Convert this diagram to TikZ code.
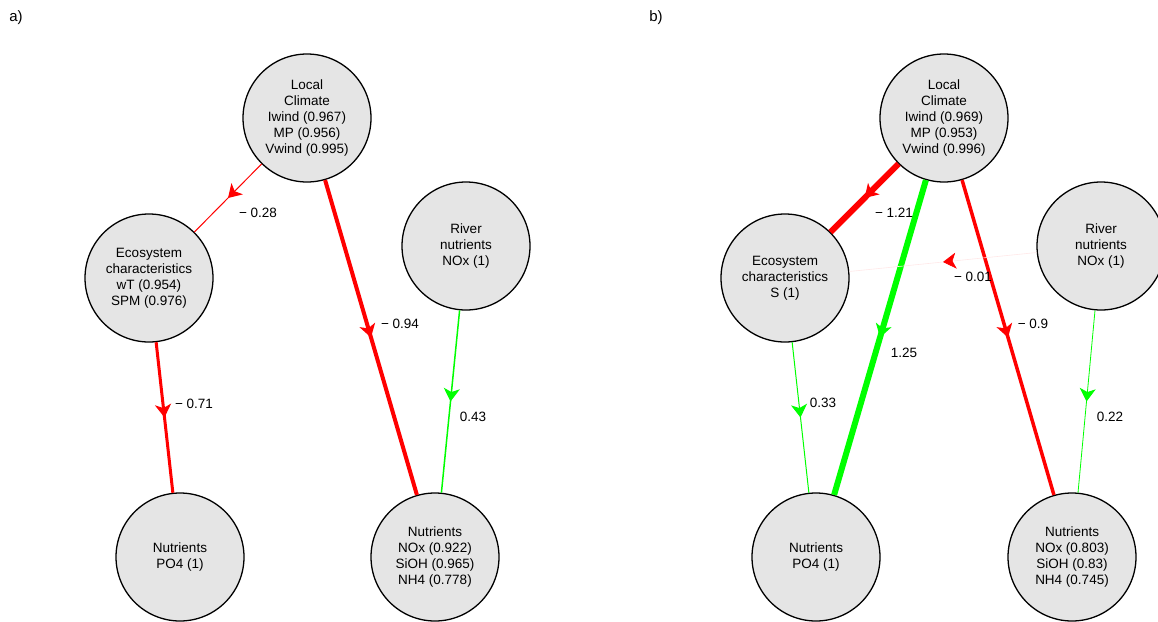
\documentclass[tikz,border=0pt]{standalone}
\usepackage{fontspec}
\setmainfont{Liberation Sans}
\usetikzlibrary{arrows.meta,decorations.markings}
\definecolor{nodegray}{RGB}{229,229,229}
\definecolor{pgreen}{RGB}{0,255,0}
\definecolor{pred}{RGB}{255,0,0}
\definecolor{faintred}{RGB}{255,232,232}
\begin{document}
\begin{tikzpicture}[x=1pt,y=-1pt,
  var/.style={circle,draw=black,line width=1.3pt,fill=nodegray,minimum size=128pt,
              inner sep=0pt,align=center,font=\fontsize{13.5}{16}\selectfont},
  elabel/.style={font=\fontsize{13.5}{16}\selectfont,inner sep=0pt},
  panel/.style={font=\fontsize{15}{18}\selectfont,inner sep=0pt},
  midarrow/.style={postaction={decorate},decoration={markings,
      mark=at position 0.5 with {\arrow{Stealth[length=13pt,width=16pt,inset=3.5pt]}}}},
  fadearrow/.style={postaction={decorate},decoration={markings,
      mark=at position 0.5 with {\arrow{Stealth[length=13pt,width=16pt,inset=3.5pt,color=pred]}}}},
  negedge/.style={draw=pred,midarrow},
  posedge/.style={draw=pgreen,midarrow}
]
\fill[white] (0,0) rectangle (1158,621);
\useasboundingbox (0,0) rectangle (1158,621);
\clip (0,0) rectangle (1158,621);

% panel labels
\node[panel] (pa_lab) at (16,18) {a)};
\node[panel] (pb_lab) at (656,18) {b)};

% ---------- panel a ----------
\node[var] (la) at (307,118) {Local\\Climate\\Iwind (0.967)\\MP (0.956)\\Vwind (0.995)};
\node[var] (ea) at (149,278) {Ecosystem\\characteristics\\wT (0.954)\\SPM (0.976)};
\node[var] (ra) at (466,246) {River\\nutrients\\NOx (1)};
\node[var] (pa) at (180,557) {Nutrients\\PO4 (1)};
\node[var] (na) at (435,557) {Nutrients\\NOx (0.922)\\SiOH (0.965)\\NH4 (0.778)};

\draw[negedge,line width=1pt] (la) -- (ea);
\draw[negedge,line width=4pt] (la) -- (na);
\draw[negedge,line width=3pt] (ea) -- (pa);
\draw[posedge,line width=1.5pt] (ra) -- (na);

\node[elabel] (e1) at (258,213) {− 0.28};
\node[elabel] (e2) at (400,324) {− 0.94};
\node[elabel] (e3) at (194,404) {− 0.71};
\node[elabel] (e4) at (473,417) {0.43};

% ---------- panel b ----------
\node[var] (lb) at (944,118) {Local\\Climate\\Iwind (0.969)\\MP (0.953)\\Vwind (0.996)};
\node[var] (eb) at (785,278) {Ecosystem\\characteristics\\S (1)};
\node[var] (rb) at (1101,246) {River\\nutrients\\NOx (1)};
\node[var] (pb) at (816,557) {Nutrients\\PO4 (1)};
\node[var] (nb) at (1072,557) {Nutrients\\NOx (0.803)\\SiOH (0.83)\\NH4 (0.745)};

\draw[negedge,line width=6pt] (lb) -- (eb);
\draw[posedge,line width=6pt] (lb) -- (pb);
\draw[negedge,line width=3.5pt] (lb) -- (nb);
\draw[draw=faintred,line width=0.6pt,fadearrow] (rb) -- (eb);
\draw[posedge,line width=1pt] (eb) -- (pb);
\draw[posedge,line width=0.8pt] (rb) -- (nb);

\node[elabel] (f1) at (894,213) {− 1.21};
\node[elabel] (f2) at (904,353) {1.25};
\node[elabel] (f3) at (1033,324) {− 0.9};
\node[elabel] (f4) at (973,277) {− 0.01};
\node[elabel] (f5) at (823,403) {0.33};
\node[elabel] (f6) at (1110,417) {0.22};
\end{tikzpicture}
\end{document}
